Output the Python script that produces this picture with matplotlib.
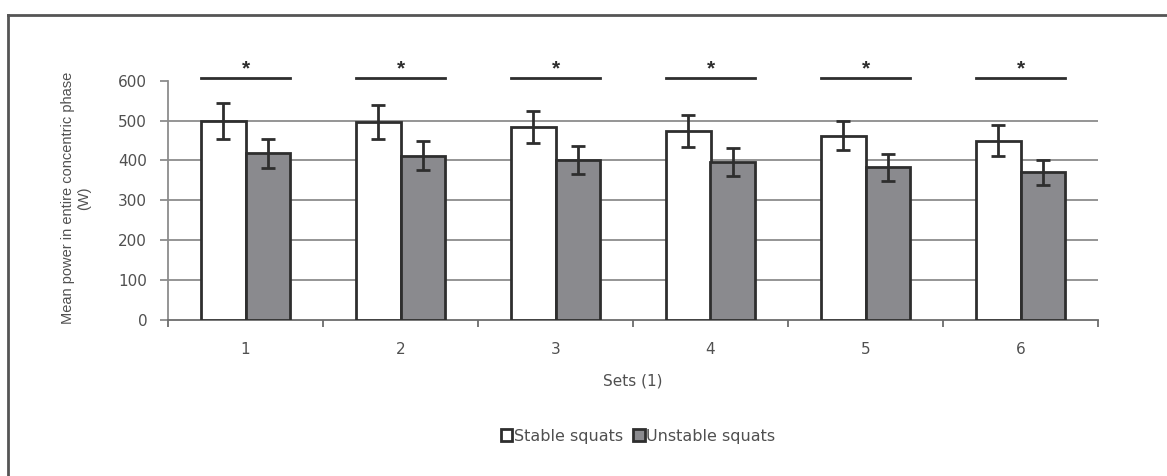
import numpy as np
import matplotlib
matplotlib.use("Agg")
import matplotlib.pyplot as plt
from matplotlib.lines import Line2D

plt.rcParams['font.family'] = ['Liberation Sans', 'DejaVu Sans']

# data
sets = ['1', '2', '3', '4', '5', '6']
stable = [500, 496, 483, 474, 462, 450]
stable_sd = [45, 42, 40, 40, 37, 38]
unstable = [418, 412, 401, 396, 383, 370]
unstable_sd = [36, 36, 35, 35, 34, 32]
series_names = ['Stable squats', 'Unstable squats']

txt = '#505050'
edge = '#2e2e2e'
grey_fill = '#8a8a8e'
wide = 'DejaVu Sans'   # scan is stretched sideways, so horizontal text looks wide

fig = plt.figure(figsize=(11.67, 4.76), dpi=100)
ax = fig.add_axes([168/1167, 1-320/476, (1098-168)/1167, (320-80.7)/476])

x = np.arange(1, len(sets) + 1)
w = 0.29
eb = dict(ecolor=edge, elinewidth=2, capsize=5, capthick=2)
ax.bar(x - w/2, stable, w, yerr=stable_sd, color='white', edgecolor=edge,
       linewidth=2, error_kw=eb, label=series_names[0], zorder=3)
ax.bar(x + w/2, unstable, w, yerr=unstable_sd, color=grey_fill, edgecolor=edge,
       linewidth=2, error_kw=eb, label=series_names[1], zorder=3)

# significance marks
for xi in x:
    ax.plot([xi - w, xi + w], [608, 608], color=edge, lw=2, clip_on=False)
    ax.text(xi, 616, '*', ha='center', va='baseline', fontsize=15, color=edge,
            fontweight='bold', clip_on=False)

ax.set_xlim(0.5, 6.5)
ax.set_ylim(0, 600)
ax.set_yticks(range(0, 601, 100))
ax.set_xticks(x)
ax.set_xticklabels(sets)
ax.set_xticks(np.arange(0.5, 6.6, 1), minor=True)

for yv in range(100, 501, 100):
    ax.axhline(yv, color='#8c8c8c', lw=1.3, zorder=1)

for s in ['top', 'right']:
    ax.spines[s].set_visible(False)
ax.spines['left'].set_color('#8c8c8c')
ax.spines['bottom'].set_color('#6c6c6c')
ax.spines['left'].set_linewidth(1.3)
ax.spines['bottom'].set_linewidth(1.3)

ax.tick_params(axis='y', length=6, width=1.3, color='#8c8c8c', pad=9)
ax.tick_params(axis='x', which='major', length=0, pad=16)
ax.tick_params(axis='x', which='minor', length=5, width=1.3, color='#6c6c6c')
for lab in ax.get_yticklabels() + ax.get_xticklabels():
    lab.set_color(txt)
    lab.set_family(wide)
    lab.set_fontsize(11)

ax.set_ylabel('Mean power in entire concentric phase\n(W)', fontsize=10.5,
              color=txt, linespacing=1.15)
ax.yaxis.set_label_coords(-0.083, 0.51)
ax.set_xlabel('Sets (1)', fontsize=11, color=txt, labelpad=12, family=wide)

handles, labels = ax.get_legend_handles_labels()
fig.legend(handles, labels, loc='center', bbox_to_anchor=(638/1167, 1-436/476),
           ncol=2, frameon=False, handlelength=0.75,
           handleheight=0.75, handletextpad=0.1, columnspacing=0.6,
           labelcolor=txt, prop={'family': wide, 'size': 11.5})

# partial frame around the figure
fig.add_artist(Line2D([8/1167, 1.0], [1-15/476, 1-15/476], color='#555555',
                      lw=2, transform=fig.transFigure))
fig.add_artist(Line2D([8/1167, 8/1167], [0.0, 1-15/476], color='#555555',
                      lw=2, transform=fig.transFigure))

fig.savefig('out.png', dpi=100)
